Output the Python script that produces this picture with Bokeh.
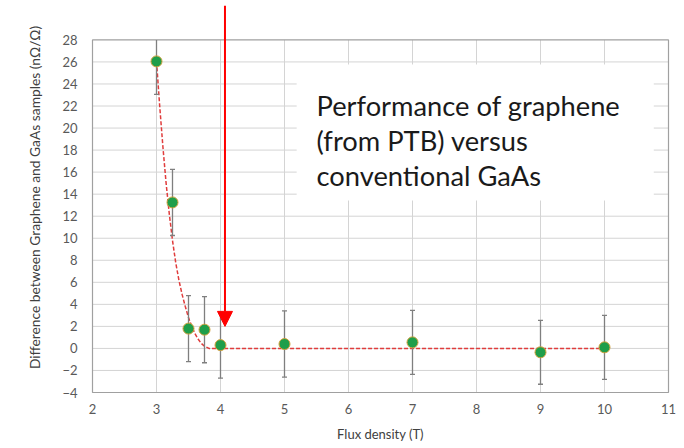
import numpy as np
from bokeh.plotting import figure
from bokeh.models import Range1d, FixedTicker, Arrow, NormalHead, BoxAnnotation, Label
from bokeh.core.properties import value
from bokeh.embed import file_html
from bokeh.resources import INLINE

# ---- data ----
flux = [3, 3.25, 3.5, 3.75, 4, 5, 7, 9, 10]
diff = [26.05, 13.25, 1.8, 1.7, 0.3, 0.4, 0.55, -0.35, 0.1]
err = [3.0, 3.0, 3.0, 3.0, 3.0, 3.0, 2.9, 2.9, 2.9]

fit_x = [3.0, 3.05, 3.1, 3.15, 3.2, 3.25, 3.3, 3.35, 3.4, 3.45, 3.5, 3.55, 3.6, 3.65, 3.7, 3.75, 3.82, 10.0]
fit_y = [26.05, 22.0, 18.3, 15.0, 12.2, 9.8, 7.8, 6.2, 4.9, 3.8, 2.8, 2.0, 1.35, 0.85, 0.45, 0.2, 0.0, 0.0]

x_ticks = [2, 3, 4, 5, 6, 7, 8, 9, 10, 11]
y_ticks = [-4, -2, 0, 2, 4, 6, 8, 10, 12, 14, 16, 18, 20, 22, 24, 26, 28]

note_lines = ["Performance of graphene", "(from PTB) versus", "conventional GaAs"]
x_title = "Flux density (T)"
y_title = "Difference between Graphene and GaAs samples (n\u03a9/\u03a9)"

FONT = "Lato"
XMIN, XMAX = x_ticks[0], x_ticks[-1]
YMIN, YMAX = y_ticks[0], y_ticks[-1]
PXX = 64.0     # px per x unit
PXY = 11.02    # px per y unit

p = figure(width=684, height=448, output_backend="svg", toolbar_location=None,
           x_range=Range1d(XMIN - 2 / PXX, XMAX + 2 / PXX),
           y_range=Range1d(YMIN - 2 / PXY, YMAX + 39.4 / PXY),
           min_border_left=90, min_border_right=14, min_border_top=0, min_border_bottom=54)
p.outline_line_color = None
p.background_fill_color = "white"
p.border_fill_color = "white"
p.xgrid.visible = False
p.ygrid.visible = False

# axes
for ax in (p.xaxis[0], p.yaxis[0]):
    ax.axis_line_color = None
    ax.major_tick_line_color = None
    ax.minor_tick_line_color = None
    ax.major_tick_out = 0
    ax.major_tick_in = 0
    ax.major_label_text_font = FONT
    ax.major_label_text_font_size = "13px"
    ax.major_label_text_color = "#595959"
    ax.axis_label_text_font = FONT
    ax.axis_label_text_font_style = "normal"
    ax.axis_label_text_color = "#404040"
p.xaxis.axis_label_text_font_size = "13px"
p.yaxis.axis_label_text_font_size = "13.8px"
p.xaxis.ticker = FixedTicker(ticks=x_ticks)
p.yaxis.ticker = FixedTicker(ticks=y_ticks)
p.xaxis.axis_label = x_title
p.yaxis.axis_label = y_title
p.xaxis.major_label_standoff = 9
p.xaxis.axis_label_standoff = 9
p.yaxis.major_label_standoff = 13
p.yaxis.axis_label_standoff = 16

# grid lines (inside the plot box only)
gx = [t for t in x_ticks if XMIN < t < XMAX]
gy = [t for t in y_ticks if YMIN < t < YMAX]
p.segment(x0=gx, y0=[YMIN] * len(gx), x1=gx, y1=[YMAX] * len(gx), line_color="#d4d4d4", line_width=1)
p.segment(x0=[XMIN] * len(gy), y0=gy, x1=[XMAX] * len(gy), y1=gy, line_color="#d4d4d4", line_width=1)
# plot box
p.quad(left=[XMIN], right=[XMAX], bottom=[YMIN], top=[YMAX], fill_color=None,
       line_color="#a0a0a0", line_width=1.2)

# fit curve
p.line(fit_x, fit_y, line_color="#e03c3c", line_width=1.5, line_dash="4 2")

# error bars
fx = np.array(flux, dtype=float)
dy = np.array(diff, dtype=float)
er = np.array(err, dtype=float)
lo = dy - er
hi = np.minimum(dy + er, YMAX)
p.segment(x0=fx, y0=lo, x1=fx, y1=hi, line_color="#7f7f7f", line_width=1.3)
capped = (dy + er) <= YMAX
p.scatter(fx, lo, marker="dash", size=5, line_color="#7f7f7f", line_width=1.3)
p.scatter(fx[capped], hi[capped], marker="dash", size=5, line_color="#7f7f7f", line_width=1.3)

# points
p.scatter(flux, diff, size=11, fill_color="#1f9e4a", line_color="#d4a03c", line_width=1)

# note box
box = BoxAnnotation(left=5.19, right=10.77, bottom=13.43, top=25.77,
                    fill_color="white", fill_alpha=1.0, line_color=None)
p.add_layout(box)
for i, t in enumerate(note_lines):
    p.add_layout(Label(x=5.5, y=22.05 - i * 3.17, text=t, text_font=FONT,
                       text_font_size="27.3px", text_color="#1a1a1a",
                       text_baseline="alphabetic"))

# red arrow
arrow = Arrow(x_start=4.07, y_start=31.1, x_end=4.07, y_end=2.0,
              line_color="#ff0000", line_width=2,
              end=NormalHead(size=15, fill_color="#ff0000", line_color="#ff0000"))
p.add_layout(arrow)

open("out.html", "w").write(file_html(p, INLINE))
